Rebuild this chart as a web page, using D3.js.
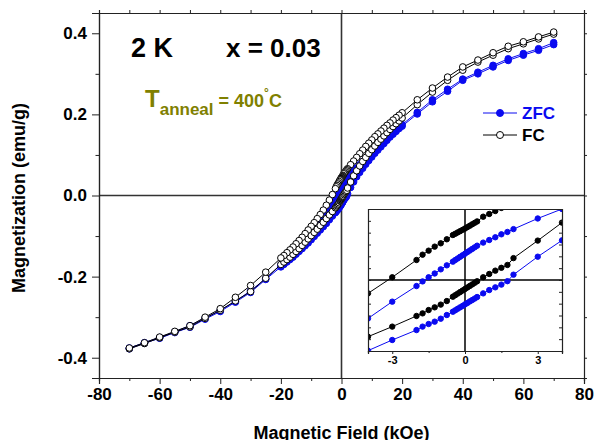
<!DOCTYPE html>
<html>
<head>
<meta charset="utf-8">
<script src="https://cdn.jsdelivr.net/npm/d3@7"></script>
<style>
  body { margin: 0; background: #fff; }
  svg { display: block; font-family: "Liberation Sans", Arial, Helvetica, sans-serif; }
</style>
</head>
<body>
<svg id="chart" width="594" height="440"></svg>
<script>
// Applied field (kOe), listed in the order of the decreasing-field sweep (+70 → -70).
const fieldSteps = [
  70, 65, 60, 55, 50, 45, 40, 35, 30, 25, 20,
  19, 18, 17, 16, 15, 14, 13, 12, 11, 10, 9, 8, 7, 6, 5, 4, 3, 2,
  1.75, 1.5, 1.25, 1, 0.75,
  0.5, 0.4, 0.3, 0.2, 0.1, 0, -0.1, -0.2, -0.3, -0.4, -0.5,
  -0.75, -1, -1.25, -1.5, -1.75,
  -2, -3, -4, -5, -6, -7, -8, -9, -10, -11, -12, -13, -14, -15, -16, -17, -18, -19,
  -20, -25, -30, -35, -40, -45, -50, -55, -60, -65, -70
];

// ZFC magnetization (emu/g), decreasing-field branch
const zfcDown = [
  0.377, 0.362, 0.350, 0.337, 0.321, 0.304, 0.287, 0.262, 0.236, 0.205, 0.175,
  0.169, 0.163, 0.157, 0.151, 0.144, 0.137, 0.130, 0.123, 0.116, 0.108, 0.100, 0.092, 0.084, 0.076, 0.068, 0.060, 0.052, 0.043,
  0.0406, 0.0386, 0.0361, 0.0338, 0.0316,
  0.0290, 0.0276, 0.0263, 0.0249, 0.0236, 0.0222, 0.0209, 0.0196, 0.0182, 0.0169, 0.0155,
  0.0124, 0.0090, 0.0055, 0.0023, -0.0012,
  -0.0051, -0.0183, -0.0325, -0.045, -0.056, -0.066, -0.076, -0.086, -0.095, -0.104, -0.112, -0.120, -0.128, -0.136, -0.144, -0.151, -0.158, -0.165,
  -0.171, -0.205, -0.235, -0.261, -0.283, -0.302, -0.321, -0.336, -0.350, -0.363, -0.376
];

// ZFC magnetization (emu/g), increasing-field branch (same field order as fieldSteps)
const zfcUp = [
  0.372, 0.358, 0.346, 0.333, 0.317, 0.300, 0.284, 0.257, 0.231, 0.201, 0.171,
  0.165, 0.158, 0.151, 0.144, 0.136, 0.128, 0.120, 0.112, 0.104, 0.095, 0.086, 0.077, 0.067, 0.057, 0.046, 0.0335, 0.0197, 0.0045,
  -0.0010, -0.0039, -0.0062, -0.0085, -0.0113,
  -0.0144, -0.0157, -0.0169, -0.0181, -0.0194, -0.0206, -0.0219, -0.0231, -0.0243, -0.0256, -0.0268,
  -0.0296, -0.0327, -0.0352, -0.0372, -0.0394,
  -0.0423, -0.0507, -0.0597, -0.069, -0.077, -0.085, -0.093, -0.101, -0.109, -0.117, -0.124, -0.131, -0.138, -0.145, -0.152, -0.158, -0.164, -0.170,
  -0.176, -0.207, -0.239, -0.263, -0.286, -0.305, -0.325, -0.338, -0.352, -0.364, -0.378
];

// FC magnetization (emu/g), decreasing-field branch
const fcDown = [
  0.403, 0.391, 0.379, 0.368, 0.352, 0.334, 0.317, 0.292, 0.265, 0.236, 0.204,
  0.198, 0.192, 0.186, 0.179, 0.173, 0.166, 0.159, 0.152, 0.145, 0.137, 0.129, 0.121, 0.112, 0.103, 0.094, 0.085, 0.076, 0.066,
  0.0635, 0.0609, 0.0583, 0.0558, 0.0535,
  0.0495, 0.0483, 0.0471, 0.0459, 0.0447, 0.0435, 0.0424, 0.0413, 0.0402, 0.0391, 0.0380,
  0.0344, 0.0310, 0.0282, 0.0248, 0.0214,
  0.0169, 0.0023, -0.0113, -0.024, -0.036, -0.047, -0.057, -0.067, -0.076, -0.085, -0.094, -0.103, -0.111, -0.119, -0.127, -0.134, -0.141, -0.148,
  -0.154, -0.189, -0.222, -0.251, -0.279, -0.300, -0.321, -0.335, -0.349, -0.363, -0.376
];

// FC magnetization (emu/g), increasing-field branch
const fcUp = [
  0.398, 0.386, 0.374, 0.362, 0.346, 0.329, 0.309, 0.284, 0.255, 0.224, 0.191,
  0.184, 0.177, 0.170, 0.163, 0.155, 0.147, 0.139, 0.131, 0.122, 0.113, 0.104, 0.094, 0.084, 0.073, 0.061, 0.0485, 0.0333, 0.0185,
  0.0127, 0.0103, 0.0079, 0.0051, 0.0023,
  -0.0011, -0.0024, -0.0037, -0.0050, -0.0063, -0.0076, -0.0089, -0.0102, -0.0115, -0.0128, -0.0141,
  -0.0178, -0.0208, -0.0231, -0.0254, -0.0282,
  -0.0304, -0.0394, -0.0479, -0.057, -0.066, -0.074, -0.083, -0.091, -0.099, -0.107, -0.115, -0.123, -0.131, -0.138, -0.145, -0.152, -0.158, -0.164,
  -0.170, -0.204, -0.237, -0.260, -0.283, -0.303, -0.324, -0.337, -0.351, -0.365, -0.378
];

const xTickValues = [-80, -60, -40, -20, 0, 20, 40, 60, 80];
const xMinorTicks = [-70, -50, -30, -10, 10, 30, 50, 70];
const yTickValues = [-0.4, -0.2, 0.0, 0.2, 0.4];
const yMinorTicks = [-0.3, -0.1, 0.1, 0.3];
const insetXTicks = [-3, 0, 3];
const insetXMinor = [-1.5, 1.5];
const insetYTicks = [-0.05, -0.04, -0.03, -0.02, -0.01, 0, 0.01, 0.02, 0.03, 0.04, 0.05];

const seriesNames = ["ZFC", "FC"];
const zfcColor = "#0a0af0";
const olive = "#808000";

const svg = d3.select("#chart");

// ---------- main panel ----------
const x = d3.scaleLinear().domain([-80, 80]).range([99, 584]);
const y = d3.scaleLinear().domain([-0.45, 0.45]).range([378, 13]);

function branch(values) {
  return fieldSteps.map((h, i) => ({ h: h, m: values[i] }));
}
const zfcD = branch(zfcDown), zfcU = branch(zfcUp).reverse();
const fcD = branch(fcDown), fcU = branch(fcUp).reverse();

// zero lines
svg.append("line").attr("x1", x(0)).attr("x2", x(0)).attr("y1", y(0.45)).attr("y2", y(-0.45))
  .attr("stroke", "#333").attr("stroke-width", 1.6);
svg.append("line").attr("x1", x(-80)).attr("x2", x(80)).attr("y1", y(0)).attr("y2", y(0))
  .attr("stroke", "#333").attr("stroke-width", 1.6);

function drawLoop(g, down, up, color, fill, r, sx, sy) {
  const ln = d3.line().x(d => sx(d.h)).y(d => sy(d.m));
  [up, down].forEach(br => {
    g.append("path").datum(br).attr("d", ln)
      .attr("fill", "none").attr("stroke", color).attr("stroke-width", 1);
  });
  [up, down].forEach(br => {
    g.selectAll(null).data(br).enter().append("circle")
      .attr("cx", d => sx(d.h)).attr("cy", d => sy(d.m)).attr("r", r)
      .attr("fill", fill).attr("stroke", color).attr("stroke-width", 1);
  });
}

const mainG = svg.append("g");
drawLoop(mainG, zfcD, zfcU, zfcColor, zfcColor, 3.3, x, y);
drawLoop(mainG, fcD, fcU, "#000", "#fff", 3.3, x, y);

// frame and axes
const fmt1 = d => d.toFixed(1);
const axB = svg.append("g").attr("transform", `translate(0,${y(-0.45)})`)
  .call(d3.axisBottom(x).tickValues(xTickValues).tickFormat(d => String(d)).tickSize(6).tickPadding(4));
svg.append("g").attr("transform", `translate(0,${y(-0.45)})`)
  .call(d3.axisBottom(x).tickValues(xMinorTicks).tickFormat("").tickSize(3));
const axL = svg.append("g").attr("transform", `translate(${x(-80)},0)`)
  .call(d3.axisLeft(y).tickValues(yTickValues).tickFormat(fmt1).tickSize(7).tickPadding(5));
svg.append("g").attr("transform", `translate(${x(-80)},0)`)
  .call(d3.axisLeft(y).tickValues(yMinorTicks).tickFormat("").tickSize(3.5));
svg.append("g").attr("transform", `translate(0,${y(0.45)})`)
  .call(d3.axisTop(x).tickValues(xTickValues.concat(xMinorTicks)).tickFormat("").tickSize(3));
svg.append("g").attr("transform", `translate(${x(80)},0)`)
  .call(d3.axisRight(y).tickValues(yTickValues.concat(yMinorTicks)).tickFormat("").tickSize(3));

svg.selectAll(".domain").attr("stroke", "#222").attr("stroke-width", 1.2);
svg.selectAll(".tick line").attr("stroke", "#222").attr("stroke-width", 1);
[axB, axL].forEach(a => a.selectAll("text")
  .attr("font-size", 17).attr("font-weight", "bold").attr("fill", "#000")
  .attr("font-family", "'Liberation Sans', Arial, sans-serif"));

// axis titles
svg.append("text").attr("x", x(0)).attr("y", 439).attr("text-anchor", "middle")
  .attr("font-size", 18).attr("font-weight", "bold").text("Magnetic Field (kOe)");
svg.append("text").attr("transform", "translate(25,198) rotate(-90)").attr("text-anchor", "middle")
  .attr("font-size", 18).attr("font-weight", "bold").text("Magnetization (emu/g)");

// annotations
svg.append("text").attr("x", 131).attr("y", 57).attr("font-size", 27).attr("font-weight", "bold").text("2 K");
svg.append("text").attr("x", 226).attr("y", 57).attr("font-size", 26).attr("font-weight", "bold").text("x = 0.03");
const ann = svg.append("text").attr("x", 145).attr("y", 107).attr("font-weight", "bold").attr("fill", olive);
ann.append("tspan").attr("font-size", 24).text("T");
ann.append("tspan").attr("font-size", 17).attr("dy", 8).text("anneal");
ann.append("tspan").attr("font-size", 18).attr("dy", -8).text(" = 400");
ann.append("tspan").attr("font-size", 12).attr("dy", -10).text("°");
ann.append("tspan").attr("font-size", 18).attr("dy", 10).text("C");

// legend
const legend = svg.append("g");
const legendRows = [
  { name: seriesNames[0], color: zfcColor, fill: zfcColor, cy: 113 },
  { name: seriesNames[1], color: "#000", fill: "#fff", cy: 135 }
];
legendRows.forEach(r => {
  legend.append("line").attr("x1", 483).attr("x2", 517).attr("y1", r.cy).attr("y2", r.cy)
    .attr("stroke", r.color).attr("stroke-width", 1);
  legend.append("circle").attr("cx", 500).attr("cy", r.cy).attr("r", 3.5)
    .attr("fill", r.fill).attr("stroke", r.color).attr("stroke-width", 1);
  legend.append("text").attr("x", 522).attr("y", r.cy + 6).attr("font-size", 17)
    .attr("font-weight", "bold").attr("fill", r.color).text(r.name);
});

// ---------- inset: low-field region ----------
const ix = d3.scaleLinear().domain([-4, 4]).range([368, 562]);
const iy = d3.scaleLinear().domain([-0.06, 0.06]).range([351, 209]);

svg.append("rect").attr("x", ix(-4)).attr("y", iy(0.06)).attr("width", ix(4) - ix(-4))
  .attr("height", iy(-0.06) - iy(0.06)).attr("fill", "#fff");

svg.append("defs").append("clipPath").attr("id", "insetClip").append("rect")
  .attr("x", ix(-4)).attr("y", iy(0.06)).attr("width", ix(4) - ix(-4)).attr("height", iy(-0.06) - iy(0.06));

svg.append("line").attr("x1", ix(-4)).attr("x2", ix(4)).attr("y1", iy(0)).attr("y2", iy(0))
  .attr("stroke", "#000").attr("stroke-width", 1.5);
svg.append("line").attr("x1", ix(0)).attr("x2", ix(0)).attr("y1", iy(0.06)).attr("y2", iy(-0.06))
  .attr("stroke", "#000").attr("stroke-width", 1.5);

const inRange = d => d.h >= -4.01 && d.h <= 4.01;
const insetG = svg.append("g").attr("clip-path", "url(#insetClip)");
drawLoop(insetG, zfcD.filter(inRange), zfcU.filter(inRange), zfcColor, zfcColor, 2.7, ix, iy);
drawLoop(insetG, fcD.filter(inRange), fcU.filter(inRange), "#000", "#000", 2.7, ix, iy);

const iaxB = svg.append("g").attr("transform", `translate(0,${iy(-0.06)})`)
  .call(d3.axisBottom(ix).tickValues(insetXTicks).tickFormat(d => String(d)).tickSize(3).tickPadding(2));
svg.append("g").attr("transform", `translate(0,${iy(-0.06)})`)
  .call(d3.axisBottom(ix).tickValues(insetXMinor).tickFormat("").tickSize(2));
svg.append("g").attr("transform", `translate(${ix(-4)},0)`)
  .call(d3.axisLeft(iy).tickValues(insetYTicks).tickFormat("").tickSize(-3));
svg.append("g").attr("transform", `translate(${ix(4)},0)`)
  .call(d3.axisRight(iy).tickValues(insetYTicks).tickFormat("").tickSize(-3));
svg.append("g").attr("transform", `translate(0,${iy(0.06)})`)
  .call(d3.axisTop(ix).tickValues([]).tickSize(0));

iaxB.selectAll("text").attr("font-size", 11).attr("font-weight", "bold").attr("fill", "#000")
  .attr("font-family", "'Liberation Sans', Arial, sans-serif");
svg.selectAll(".domain").attr("stroke", "#222").attr("stroke-width", 1.2);
svg.selectAll(".tick line").attr("stroke", "#222");
</script>
</body>
</html>
